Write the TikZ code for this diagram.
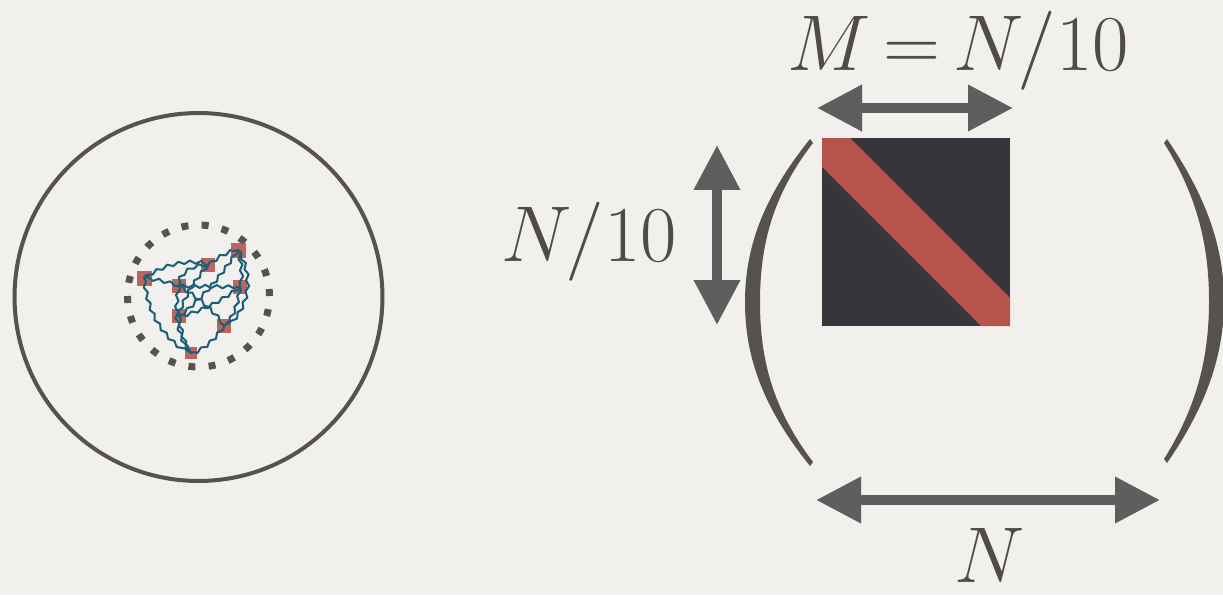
\documentclass[tikz,border=0pt]{standalone}
\usepackage{graphicx}
\usetikzlibrary{arrows.meta,decorations.pathmorphing}
\definecolor{paper}{HTML}{F1F0EC}
\definecolor{ink}{HTML}{4F4C48}
\definecolor{arrowgray}{HTML}{5E5E5E}
\definecolor{ringgray}{HTML}{56524F}
\definecolor{teal}{HTML}{1B5F78}
\definecolor{brick}{HTML}{B4544A}
\definecolor{slate}{HTML}{36353A}
\newcommand{\biglabel}[1]{\scalebox{1.81}{\Huge #1}}
\tikzset{
  sq/.style={rectangle, fill=brick, fill opacity=0.88, inner sep=0pt, minimum size=0.28cm},
  wavy/.style={draw=teal, line width=1.15pt, line cap=round, line join=round, decorate,
    decoration={snake, amplitude=0.9pt, segment length=6.5pt}},
  dimarrow/.style={draw=arrowgray, line width=0.2cm,
    {Triangle[length=0.9cm,width=0.88cm]}-{Triangle[length=0.9cm,width=0.88cm]}},
  label/.style={text=ink, inner sep=0pt, anchor=base},
  paren/.style={fill=ringgray, draw=none}
}
\begin{document}
\begin{tikzpicture}[x=0.02cm, y=-0.02cm]
\fill[paper] (0,0) rectangle (1223,595);
\clip (0,0) rectangle (1223,595);

% left: circles
\draw[ringgray, line width=0.08cm] (198.5,297) circle[radius=3.68cm];
\draw[ringgray, line width=0.14cm, dash pattern=on 0.14cm off 0.2656cm] (198.5,296) circle[radius=1.42cm];

% nodes
\node[sq, minimum size=0.3cm] (A) at (144,278) {};
\node[sq] (B) at (208,265) {};
\node[sq, minimum size=0.3cm] (C) at (238,250) {};
\node[sq] (D) at (179,286) {};
\node[sq] (E) at (240,287) {};
\node[sq] (F) at (179,316) {};
\node[sq] (G) at (224,326) {};
\node[sq, minimum size=0.25cm] (H) at (191,353) {};

% edges
\draw[wavy] (A.center) to[bend left=20] (B.center);
\draw[wavy] (B.center) to[bend left=10] (C.center);
\draw[wavy] (A.center) to[bend left=5] (D.center);
\draw[wavy] (D.center) to (E.center);
\draw[wavy] (A.center) to[bend right=25] (H.center);
\draw[wavy] (C.center) to[bend left=40] (G.center);
\draw[wavy] (G.center) to[bend left=15] (H.center);
\draw[wavy] (C.center) to[bend left=8] (F.center);
\draw[wavy] (B.center) to[bend right=10] (F.center);
\draw[wavy] (B.center) to[bend right=35] (D.center);
\draw[wavy] (D.center) to[bend left=10] (G.center);
\draw[wavy] (F.center) to[bend right=10] (H.center);
\draw[wavy] (E.center) to[bend left=10] (F.center);
\draw[wavy] (C.center) to[bend left=10] (E.center);
\draw[wavy] (E.center) to[bend left=15] (G.center);
\draw[wavy] (D.center) to[bend right=20] (H.center);

% right: matrix block
\fill[slate] (822,138) rectangle (1010,326);
\fill[brick] (822,138) -- (850,138) -- (1010,298) -- (1010,326) -- (981,326) -- (822,167) -- cycle;

% parentheses
\fill[paren] (810,139) .. controls (765,195) and (745,245) .. (745,302)
  .. controls (745,360) and (765,410) .. (810,466)
  -- (813,462) .. controls (772,408) and (760,358) .. (760,302)
  .. controls (760,246) and (772,196) .. (813,143) -- cycle;
\fill[paren] (1167,139) .. controls (1205,195) and (1224,245) .. (1224,301)
  .. controls (1224,357) and (1205,408) .. (1167,463)
  -- (1164,459) .. controls (1198,405) and (1209,355) .. (1209,301)
  .. controls (1209,247) and (1198,197) .. (1164,143) -- cycle;

% dimension arrows
\coordinate (mL) at (817,108);
\coordinate (mR) at (1013,108);
\coordinate (nL) at (816,500);
\coordinate (nR) at (1160,500);
\coordinate (vT) at (717,145);
\coordinate (vB) at (717,325);
\draw[dimarrow] (mL) -- (mR);
\draw[dimarrow] (nL) -- (nR);
\draw[dimarrow] (vT) -- (vB);

% labels
\node[label] (lm) at (958,70) {\biglabel{$\thickmuskip=3mu M = N/10$}};
\node[label] (lv) at (589,261) {\biglabel{$N/10$}};
\node[label] (ln) at (990,582) {\biglabel{$N$}};
\end{tikzpicture}
\end{document}
